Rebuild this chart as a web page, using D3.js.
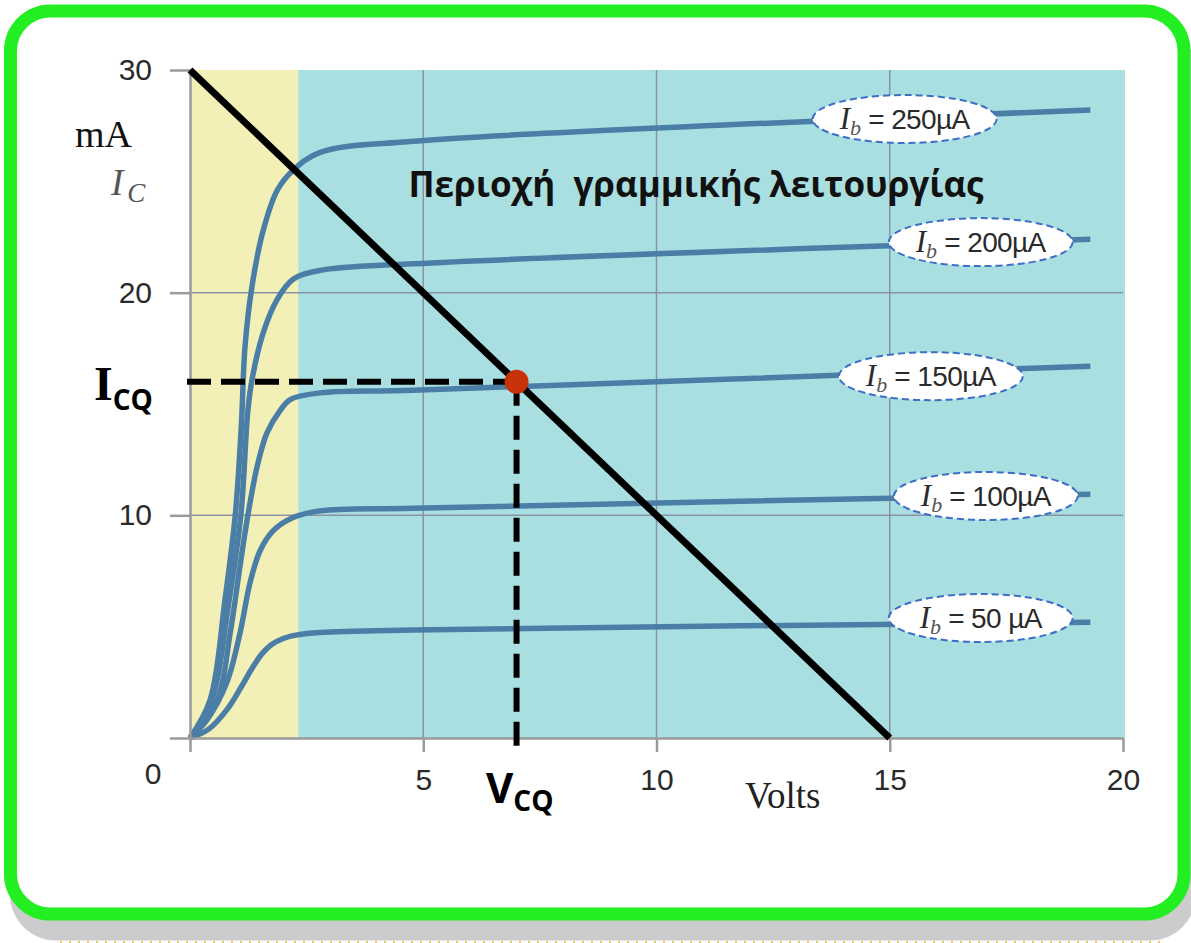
<!DOCTYPE html>
<html>
<head>
<meta charset="utf-8">
<script src="https://cdn.jsdelivr.net/npm/d3@7"></script>
<style>
    body { margin: 0; background: #fff; }
    svg { display: block; }
</style>
</head>
<body>
<svg id="drawing_region"></svg>
<script>
// axis ticks
const xTicks = [0, 5, 10, 15, 20];
const yTicks = [0, 10, 20, 30];

// base currents (uA) and the output curve of each one: [Vce (V), Ic (mA)]
const baseCurrents = [50, 100, 150, 200, 250];
const curve50  = [[0,0],[0.4,0.4],[0.8,1.3],[1.1,2.3],[1.35,3.2],[1.55,3.8],[1.75,4.2],[2.0,4.47],[2.3,4.63],[2.79,4.74],[4.79,4.85],[19.3,5.2]];
const curve100 = [[0,0],[0.36,0.8],[0.79,2.5],[1.07,4.7],[1.29,7.0],[1.5,8.4],[1.78,9.3],[2.21,9.9],[2.79,10.2],[4.79,10.32],[19.3,10.95]];
const curve150 = [[0,0],[0.58,1.7],[0.86,4.7],[1.07,7.7],[1.24,10.0],[1.44,12.2],[1.65,13.7],[1.93,14.7],[2.15,15.2],[2.79,15.5],[4.79,15.62],[19.3,16.7]];
const curve200 = [[0,0],[0.45,1.6],[0.84,6.2],[1.09,10.0],[1.24,14.7],[1.33,16.1],[1.57,18.2],[1.87,19.7],[2.21,20.6],[2.79,21.0],[4.79,21.3],[19.3,22.4]];
const curve250 = [[0,0],[0.43,1.7],[0.75,6.2],[0.97,10.0],[1.1,14.0],[1.18,17.6],[1.33,20.3],[1.57,22.8],[1.87,24.6],[2.21,25.5],[2.79,26.3],[4.79,26.8],[19.3,28.2]];
const curves = [curve50, curve100, curve150, curve200, curve250];

// where each Ib label sits on its curve [V, mA] and its text
const labelPos  = [[16.95,5.39],[17.06,10.87],[15.88,16.25],[16.95,22.27],[15.32,27.8]];
const labelText = ["50 µA", "100µA", "150µA", "200µA", "250µA"];

// load line, operating point, end of saturation region
const loadLine = [[0,30],[15,0]];
const qPoint = [7, 16];
const satEdge = 2.32;

class OutputChart {

    constructor( config ) {
        this.config = config;
        this.init();
    }

    init() {
        let self = this;

        self.svg = d3.select( self.config.parent )
            .attr('width', self.config.width)
            .attr('height', self.config.height);

        self.xscale = d3.scaleLinear()
            .domain([0, 20])
            .range([190, 1123]);

        self.yscale = d3.scaleLinear()
            .domain([0, 30])
            .range([738, 70]);
    }

    render() {
        let self = this;
        const x = self.xscale, y = self.yscale;

        // frame: shadow, green rounded border, dotted line under it
        self.svg.append('rect')
            .attr('x', 10).attr('y', 24.5)
            .attr('width', 1186).attr('height', 916)
            .attr('rx', 46)
            .attr('fill', '#cccccc');
        self.svg.append('line')
            .attr('x1', 60).attr('x2', 1160)
            .attr('y1', 942).attr('y2', 942)
            .attr('stroke', '#e8c650')
            .attr('stroke-width', 2)
            .attr('stroke-dasharray', '2,7');
        self.svg.append('rect')
            .attr('x', 10.5).attr('y', 11)
            .attr('width', 1173.5).attr('height', 903)
            .attr('rx', 40)
            .attr('fill', '#fff')
            .attr('stroke', '#22ee22')
            .attr('stroke-width', 13);

        // regions
        self.svg.append('rect')
            .attr('x', x(0)).attr('y', y(30))
            .attr('width', x(satEdge) - x(0))
            .attr('height', y(0) - y(30))
            .attr('fill', '#f2f0b6');
        self.svg.append('rect')
            .attr('x', x(satEdge)).attr('y', y(30))
            .attr('width', x(20) - x(satEdge) + 2)
            .attr('height', y(0) - y(30))
            .attr('fill', '#a9dfe0');

        // grid
        self.svg.append('g')
            .selectAll('line')
            .data([5, 10, 15])
            .join('line')
            .attr('x1', d => x(d)).attr('x2', d => x(d))
            .attr('y1', y(30)).attr('y2', y(0))
            .attr('stroke', '#8a93a6')
            .attr('stroke-width', 1.5);
        self.svg.append('g')
            .selectAll('line')
            .data([10, 20])
            .join('line')
            .attr('x1', x(0)).attr('x2', x(20))
            .attr('y1', d => y(d)).attr('y2', d => y(d))
            .attr('stroke', '#8a93a6')
            .attr('stroke-width', 1.5);

        // output curves
        const line = d3.line()
            .x(d => x(d[0]))
            .y(d => y(d[1]))
            .curve(d3.curveCatmullRom.alpha(0.5));

        self.svg.append('g')
            .selectAll('path')
            .data(curves)
            .join('path')
            .attr('d', line)
            .attr('fill', 'none')
            .attr('stroke', '#4a7ea6')
            .attr('stroke-width', 5.5);

        // axes
        const xaxis = d3.axisBottom(x)
            .tickValues(xTicks)
            .tickSize(14)
            .tickSizeOuter(0)
            .tickPadding(17)
            .tickFormat(d => d === 0 ? '' : d);
        const yaxis = d3.axisLeft(y)
            .tickValues(yTicks)
            .tickSize(20)
            .tickSizeOuter(0)
            .tickPadding(18)
            .tickFormat(d => d === 0 ? '' : d);

        const xg = self.svg.append('g')
            .attr('transform', `translate(0, ${y(0)})`)
            .call(xaxis);
        const yg = self.svg.append('g')
            .attr('transform', `translate(${x(0)}, 0)`)
            .call(yaxis);

        [xg, yg].forEach(g => {
            g.selectAll('path, line')
                .attr('stroke', '#9a9a9a')
                .attr('stroke-width', 2.5);
            g.selectAll('text')
                .attr('fill', '#2a2a2a')
                .attr('font-family', 'Liberation Sans, Arial, sans-serif')
                .attr('font-size', 30);
        });

        self.svg.append('text')
            .attr('x', 153).attr('y', 784)
            .attr('text-anchor', 'middle')
            .attr('fill', '#2a2a2a')
            .attr('font-family', 'Liberation Sans, Arial, sans-serif')
            .attr('font-size', 30)
            .text('0');

        // axis names
        self.svg.append('text')
            .attr('x', 75).attr('y', 147)
            .attr('font-family', 'Liberation Serif, serif')
            .attr('font-size', 38)
            .attr('fill', '#111')
            .text('mA');
        const ic = self.svg.append('text')
            .attr('x', 111).attr('y', 195)
            .attr('font-family', 'Liberation Serif, serif')
            .attr('font-style', 'italic')
            .attr('fill', '#555');
        ic.append('tspan').attr('font-size', 37).text('I');
        ic.append('tspan').attr('font-size', 27).attr('dx', 4).attr('dy', 7).text('C');

        self.svg.append('text')
            .attr('x', 745).attr('y', 808)
            .attr('font-family', 'Liberation Serif, serif')
            .attr('font-size', 37)
            .attr('fill', '#222')
            .text('Volts');

        // title of the active region
        self.svg.append('text')
            .attr('x', 696).attr('y', 197)
            .attr('text-anchor', 'middle')
            .attr('font-family', 'Open Sans, Noto Sans, sans-serif')
            .attr('font-weight', 700)
            .attr('font-size', 35)
            .attr('fill', '#111')
            .style('white-space', 'pre')
            .text('Περιοχή  γραμμικής λειτουργίας');

        // load line
        self.svg.append('path')
            .datum(loadLine)
            .attr('d', d3.line().x(d => x(d[0])).y(d => y(d[1])))
            .attr('stroke', '#000')
            .attr('stroke-width', 7);

        // Ib labels
        const labels = self.svg.append('g')
            .selectAll('g')
            .data(baseCurrents)
            .join('g')
            .attr('transform', (d, i) => `translate(${x(labelPos[i][0])}, ${y(labelPos[i][1])})`);

        labels.append('ellipse')
            .attr('rx', 92).attr('ry', 24)
            .attr('fill', '#fff')
            .attr('stroke', '#3d6fc4')
            .attr('stroke-width', 2)
            .attr('stroke-dasharray', '7,4');

        const lt = labels.append('text')
            .attr('text-anchor', 'middle')
            .attr('y', 10)
            .attr('fill', '#2a2a2a');
        lt.append('tspan')
            .attr('font-family', 'Liberation Serif, serif')
            .attr('font-style', 'italic')
            .attr('font-size', 31)
            .text('I');
        lt.append('tspan')
            .attr('font-family', 'Liberation Serif, serif')
            .attr('font-style', 'italic')
            .attr('font-size', 22)
            .attr('dy', 6)
            .attr('fill', '#555')
            .text('b');
        lt.append('tspan')
            .attr('font-family', 'Liberation Sans, Arial, sans-serif')
            .attr('font-size', 28)
            .attr('letter-spacing', -0.6)
            .attr('dy', -6)
            .style('white-space', 'pre')
            .text((d, i) => ' = ' + labelText[i]);

        // operating point guides
        self.svg.append('line')
            .attr('x1', x(0) - 3).attr('x2', x(qPoint[0]))
            .attr('y1', y(qPoint[1])).attr('y2', y(qPoint[1]))
            .attr('stroke', '#000')
            .attr('stroke-width', 6)
            .attr('stroke-dasharray', '24,10');
        self.svg.append('line')
            .attr('x1', x(qPoint[0])).attr('x2', x(qPoint[0]))
            .attr('y1', y(qPoint[1])).attr('y2', y(0) + 9)
            .attr('stroke', '#000')
            .attr('stroke-width', 6)
            .attr('stroke-dasharray', '24,10');

        self.svg.append('circle')
            .attr('cx', x(qPoint[0]))
            .attr('cy', y(qPoint[1]))
            .attr('r', 12)
            .attr('fill', '#c83208');

        // I_CQ and V_CQ
        const icq = self.svg.append('text')
            .attr('x', 94).attr('y', 400)
            .attr('fill', '#000')
            .attr('font-weight', 700);
        icq.append('tspan')
            .attr('font-family', 'Liberation Serif, serif')
            .attr('font-size', 48)
            .text('I');
        icq.append('tspan')
            .attr('font-family', 'Open Sans, Noto Sans, sans-serif')
            .attr('font-size', 28)
            .attr('dy', 10)
            .text('CQ');

        const vcq = self.svg.append('text')
            .attr('x', 486).attr('y', 803)
            .attr('fill', '#000')
            .attr('font-weight', 700)
            .attr('font-family', 'Open Sans, Noto Sans, sans-serif');
        vcq.append('tspan')
            .attr('font-size', 42)
            .text('V');
        vcq.append('tspan')
            .attr('font-size', 28)
            .attr('dy', 8)
            .text('CQ');
    }
}

const chart = new OutputChart({
    parent: '#drawing_region',
    width: 1191,
    height: 943
});
chart.render();
</script>
</body>
</html>
